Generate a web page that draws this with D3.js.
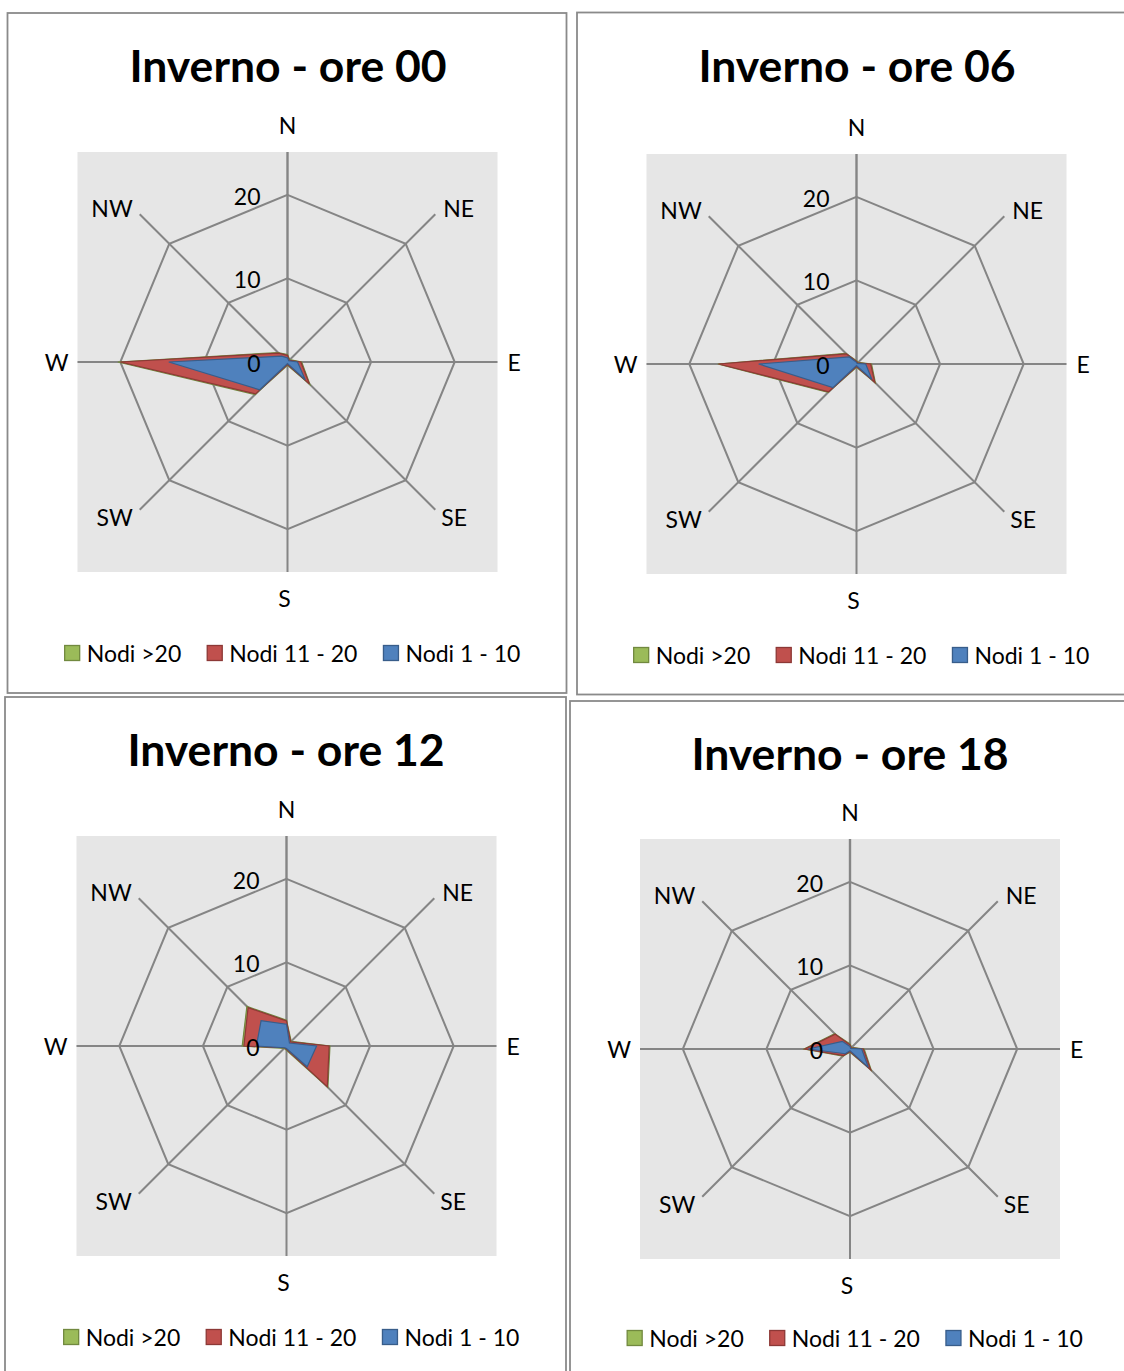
<!DOCTYPE html>
<html><head><meta charset="utf-8">
<script src="https://cdn.jsdelivr.net/npm/d3@7/dist/d3.min.js"></script>
<style>
html,body{margin:0;padding:0;background:#fff;}
svg{display:block;}
text{font-family:Lato,"Open Sans",sans-serif;fill:#000;}
</style></head>
<body>
<svg id="chart" width="1124" height="1371"></svg>
<script>
// ---------------- DATA ----------------
const directions = ["N","NE","E","SE","S","SW","W","NW"];
const seriesNames = ["Nodi >20","Nodi 11 - 20","Nodi 1 - 10"];
const seriesFill = ["#9bbb59","#c0504d","#4f81bd"];
const seriesStroke = ["#71893f","#8c3836","#385d8a"];
const tickValues = [0,10,20];
const gridValues = [10,20];
const axisMax = 25;
const chartTitles = ["Inverno - ore 00","Inverno - ore 06","Inverno - ore 12","Inverno - ore 18"];

// values per direction (N, NE, E, SE, S, SW, W, NW)
const ore00_gt20  = [0.9,0.4,1.7,3.8,0.4,5.5,20.3,1.6];
const ore00_11_20 = [0.8,0.3,1.6,3.7,0.3,5.4,20.0,1.5];
const ore00_1_10  = [0.5,0.2,1.2,3.0,0.2,4.7,14.2,1.0];

const ore06_gt20  = [0.4,0.3,1.8,3.2,0.4,4.8,16.6,1.8];
const ore06_11_20 = [0.3,0.2,1.7,3.1,0.3,4.7,16.5,1.7];
const ore06_1_10  = [0.2,0.1,1.1,2.6,0.2,4.0,11.7,1.2];

const ore12_gt20  = [3.1,0.8,5.2,7.0,0.5,0.4,5.3,6.7];
const ore12_11_20 = [3.0,0.7,5.1,6.9,0.4,0.3,5.1,6.5];
const ore12_1_10  = [2.6,0.5,3.6,3.5,0.3,0.3,3.6,4.3];

const ore18_gt20  = [0.6,0.3,1.7,3.6,0.4,1.2,5.5,2.6];
const ore18_11_20 = [0.5,0.2,1.6,3.5,0.3,1.1,5.4,2.5];
const ore18_1_10  = [0.3,0.1,1.4,3.1,0.2,0.8,5.0,1.3];

const chartSeries = [
  [ore00_gt20, ore00_11_20, ore00_1_10],
  [ore06_gt20, ore06_11_20, ore06_1_10],
  [ore12_gt20, ore12_11_20, ore12_1_10],
  [ore18_gt20, ore18_11_20, ore18_1_10]
];

// ---------------- LAYOUT ----------------
const panels = [
  {x:7.5, y:13,   w:559, h:680, tx:288, ty:64,  cx:287.5, cy:362,  ly:653},
  {x:577, y:12.5, w:562, h:682, tx:857, ty:64,  cx:856.5, cy:364,  ly:655},
  {x:5,   y:697,  w:561, h:690, tx:286, ty:748, cx:286.5, cy:1046, ly:1337},
  {x:570, y:701,  w:562, h:690, tx:850, ty:752, cx:850,   cy:1049, ly:1338}
];

const R = 209;
const plotHalf = 210;
const svg = d3.select("#chart");
const r = d3.scaleLinear().domain([0, axisMax]).range([0, R]);
const angle = d3.scalePoint().domain(directions).range([0, 2*Math.PI*(directions.length-1)/directions.length]);

const radial = d3.lineRadial()
  .angle((d,i)=>angle(directions[i]))
  .radius(d=>r(d))
  .curve(d3.curveLinearClosed);

function polar(dir, v){
  const a = angle(dir);
  return [Math.sin(a)*r(v), -Math.cos(a)*r(v)];
}

panels.forEach((p, k) => {
  const g = svg.append("g");
  g.append("rect").attr("x",p.x).attr("y",p.y).attr("width",p.w).attr("height",p.h)
    .attr("fill","#fff").attr("stroke","#8a8a8a").attr("stroke-width",1.8);

  g.append("text").attr("x",p.tx).attr("y",p.ty).attr("text-anchor","middle")
    .attr("dominant-baseline","central").style("font-weight","bold").style("font-size","44.5px")
    .text(chartTitles[k]);

  const c = g.append("g").attr("transform",`translate(${p.cx},${p.cy})`);
  c.append("rect").attr("x",-plotHalf).attr("y",-plotHalf).attr("width",plotHalf*2).attr("height",plotHalf*2)
    .attr("fill","#e6e6e6");

  // grid polygons
  gridValues.forEach(v=>{
    c.append("path").attr("d", radial(directions.map(()=>v)))
      .attr("fill","none").attr("stroke","#858585").attr("stroke-width",2);
  });
  // spokes
  directions.forEach(dir=>{
    const [x,y] = polar(dir, dir.length===1 ? axisMax*plotHalf/R : axisMax);
    c.append("line").attr("x1",0).attr("y1",0).attr("x2",x).attr("y2",y)
      .attr("stroke","#858585").attr("stroke-width", dir==="N"?2.4:2);
  });

  // series
  chartSeries[k].forEach((vals, s)=>{
    c.append("path").attr("d", radial(vals))
      .attr("fill", seriesFill[s]).attr("stroke", seriesStroke[s]).attr("stroke-width",1.2)
      .attr("stroke-linejoin","miter");
  });

  // tick labels
  tickValues.forEach(v=>{
    c.append("text").attr("x",-27).attr("y",-r(v)+1).attr("text-anchor","end")
      .attr("dominant-baseline","central").style("font-size","23px").text(v);
  });

  // direction labels
  const lab = {
    N:  {dx:0,  dy:-27, a:"middle"},
    NE: {dx:8,  dy:-6,  a:"start"},
    E:  {dx:10, dy:0,   a:"start"},
    SE: {dx:6,  dy:7,   a:"start"},
    S:  {dx:-3, dy:26,  a:"middle"},
    SW: {dx:-7, dy:7,   a:"end"},
    W:  {dx:-9, dy:0,   a:"end"},
    NW: {dx:-7, dy:-6,  a:"end"}
  };
  directions.forEach(dir=>{
    const [x,y] = polar(dir, axisMax*((dir.length===1)?plotHalf/R:1));
    const L = lab[dir];
    c.append("text").attr("x",x+L.dx).attr("y",y+L.dy).attr("text-anchor",L.a)
      .attr("dominant-baseline","central").style("font-size","23px").text(dir);
  });

  // legend
  const lg = g.append("g");
  let xx = 0;
  seriesNames.forEach((name,s)=>{
    const it = lg.append("g").attr("transform",`translate(${xx},0)`);
    it.append("rect").attr("x",0).attr("y",-7.5).attr("width",15).attr("height",15)
      .attr("fill",seriesFill[s]).attr("stroke",seriesStroke[s]).attr("stroke-width",1.3);
    const t = it.append("text").attr("x",22).attr("y",0).attr("dominant-baseline","central")
      .style("font-size","23px").text(name);
    const w = t.node().getComputedTextLength();
    xx += 22 + w + 26;
  });
  const totalW = xx - 26;
  lg.attr("transform",`translate(${p.cx + 5 - totalW/2},${p.ly})`);
});
</script>
</body></html>
